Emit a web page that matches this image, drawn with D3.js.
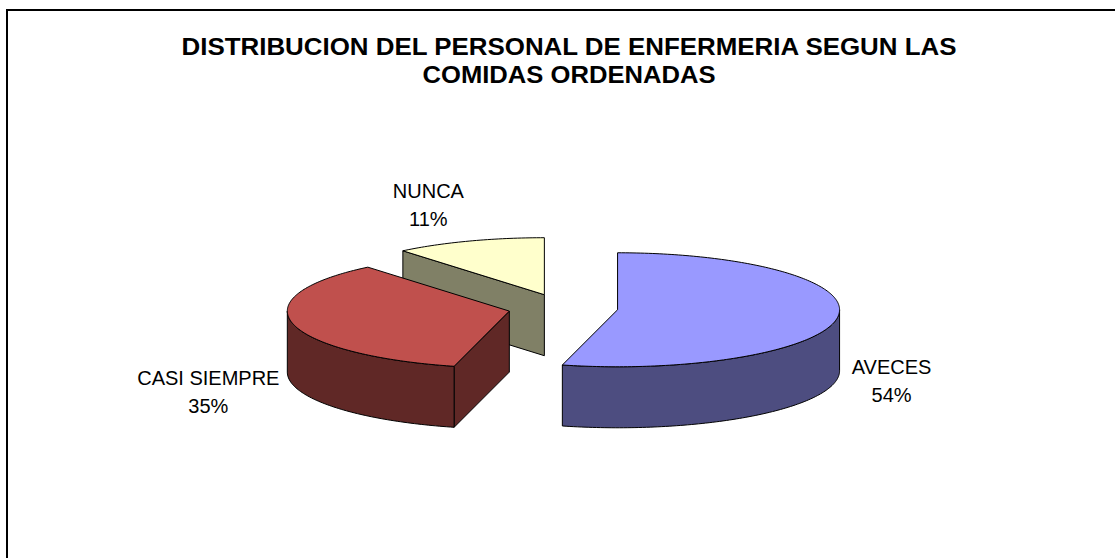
<!DOCTYPE html>
<html>
<head>
<meta charset="utf-8">
<script src="https://cdn.jsdelivr.net/npm/d3@7"></script>
<style>
  html, body { margin: 0; padding: 0; background: #ffffff; }
  svg { display: block; }
</style>
</head>
<body>
<svg id="chart" width="1115" height="558"></svg>
<script>
// ---- data ----
const titleLines = ["DISTRIBUCION DEL PERSONAL DE ENFERMERIA SEGUN LAS", "COMIDAS ORDENADAS"];
const categories = ["AVECES", "CASI SIEMPRE", "NUNCA"];
const values = [54, 35, 11];
const percentLabels = ["54%", "35%", "11%"];
const topColors = ["#9999FF", "#C0504D", "#FFFFCC"];
const sideColors = ["#4D4D80", "#602826", "#808066"];

// ---- layout ----
const W = 1115, H = 558;
const cx0 = 563, cy0 = 308;      // pie centre before explosion
const rx = 222, ry = 57;         // ellipse radii of projected top face
const depth = 61;                // thickness of the 3D pie
const explode = 55;              // explosion distance (in rx units)
const labelOffsets = [[274, 64], [-301, 74], [-116, -97]]; // label anchor relative to slice centre
const lineGap = 28;

const svg = d3.select("#chart");

// frame (only left and top edges are visible in the reference)
svg.append("path")
  .attr("d", `M7,${H} V10 H${W}`)
  .attr("fill", "none").attr("stroke", "#000").attr("stroke-width", 2);

// title
const title = svg.append("g").attr("font-family", "'Liberation Sans', Arial, sans-serif")
  .attr("font-weight", "bold").attr("font-size", 24).attr("text-anchor", "middle");
const titleLens = [775, 293];
titleLines.forEach((t, i) => {
  title.append("text").attr("x", 569).attr("y", 55 + i * 28)
    .attr("textLength", titleLens[i]).attr("lengthAdjust", "spacingAndGlyphs")
    .text(t);
});

// pie angles (clockwise from 12 o'clock, like d3.pie)
const arcs = d3.pie().sort(null).value(d => d)(values);

const slices = arcs.map((a, i) => {
  const mid = (a.startAngle + a.endAngle) / 2;
  const c = {
    x: cx0 + explode * Math.sin(mid),
    y: cy0 - explode * (ry / rx) * Math.cos(mid)
  };
  return { i, a0: a.startAngle, a1: a.endAngle, mid, c };
});

const P = (c, t, z) => [c.x + rx * Math.sin(t), c.y - ry * Math.cos(t) + z];
const line = d3.line();

function arcPoints(c, t0, t1, z) {
  const n = Math.max(2, Math.ceil(Math.abs(t1 - t0) / (Math.PI / 180)));
  return d3.range(n + 1).map(k => P(c, t0 + (t1 - t0) * k / n, z));
}

const g = svg.append("g");
const order = slices.slice().sort((p, q) => p.c.y - q.c.y);

order.forEach(s => {
  const sg = g.append("g");
  const { c, a0, a1, i } = s;
  const style = sel => sel.attr("stroke", "#000").attr("stroke-width", 1).attr("stroke-linejoin", "round");

  // radial wall at start angle
  if (Math.sin(a0) < -1e-6) {
    const pts = [[c.x, c.y], P(c, a0, 0), P(c, a0, depth), [c.x, c.y + depth]];
    sg.append("path").attr("d", line(pts) + "Z").attr("fill", sideColors[i]).call(style);
  }
  // radial wall at end angle
  if (Math.sin(a1) > 1e-6) {
    const pts = [[c.x, c.y], P(c, a1, 0), P(c, a1, depth), [c.x, c.y + depth]];
    sg.append("path").attr("d", line(pts) + "Z").attr("fill", sideColors[i]).call(style);
  }
  // outer curved wall (front half only)
  const v0 = Math.max(a0, Math.PI / 2), v1 = Math.min(a1, 3 * Math.PI / 2);
  if (v1 > v0) {
    const pts = arcPoints(c, v0, v1, 0).concat(arcPoints(c, v1, v0, depth));
    sg.append("path").attr("d", line(pts) + "Z").attr("fill", sideColors[i]).call(style);
  }
  // top face
  const topPts = [[c.x, c.y]].concat(arcPoints(c, a0, a1, 0));
  sg.append("path").attr("d", line(topPts) + "Z").attr("fill", topColors[i]).call(style);
});

// labels
const lab = svg.append("g").attr("font-family", "'Liberation Sans', Arial, sans-serif")
  .attr("font-size", 20).attr("text-anchor", "middle").attr("fill", "#000");
slices.forEach(s => {
  const [dx, dy] = labelOffsets[s.i];
  const t = lab.append("text");
  t.append("tspan").attr("x", s.c.x + dx).attr("y", s.c.y + dy).text(categories[s.i]);
  t.append("tspan").attr("x", s.c.x + dx).attr("y", s.c.y + dy + lineGap).text(percentLabels[s.i]);
});
</script>
</body>
</html>
